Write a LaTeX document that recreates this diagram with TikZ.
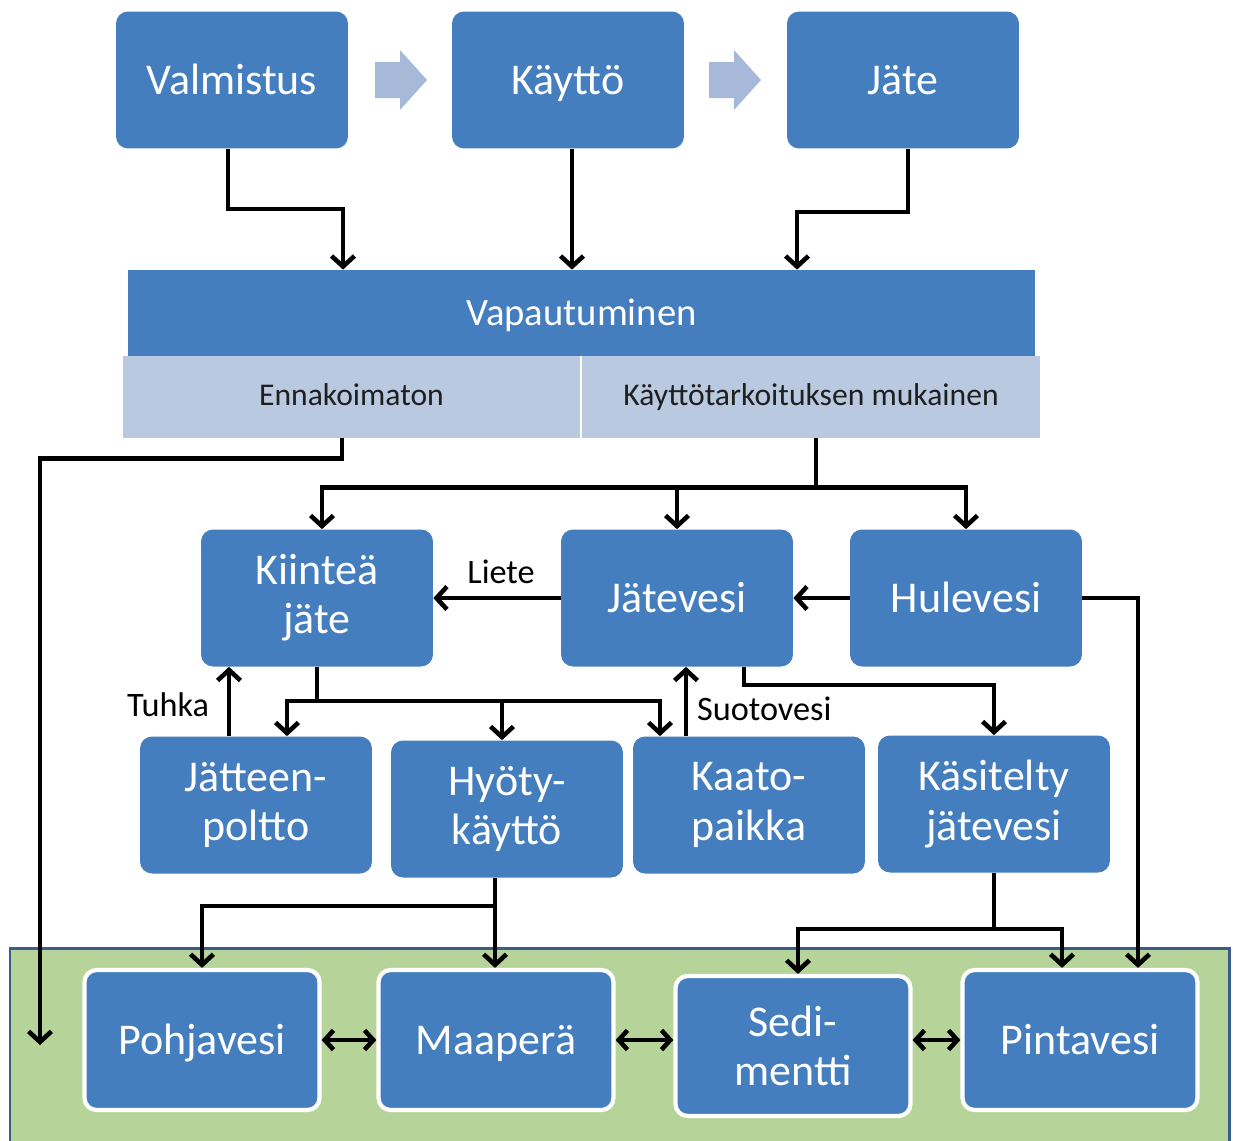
\documentclass[tikz,border=0pt]{standalone}
\usepackage{fontspec}
\setmainfont{Carlito}
\usetikzlibrary{arrows.meta}
\definecolor{boxblue}{RGB}{69,126,190}
\definecolor{lightbar}{RGB}{184,201,224}
\definecolor{chev}{RGB}{166,185,216}
\definecolor{groundgreen}{RGB}{182,211,153}
\definecolor{groundborder}{RGB}{56,93,138}
\tikzset{
  box/.style={rounded corners=0.24cm, fill=boxblue, draw=none, text=white,
    font=\fontsize{25}{28}\selectfont, align=center,
    minimum width=4.64cm, minimum height=2.74cm, inner sep=0pt},
  oneline/.style={text height=20pt, text depth=4pt},
  gbox/.style={box, draw=white, line width=2.4pt, minimum width=4.7cm, minimum height=2.8cm},
  bar/.style={fill=lightbar, draw=none, text={black!88}, font=\fontsize{18}{20}\selectfont,
    minimum height=1.64cm, inner sep=0pt, text height=13pt, text depth=3pt},
  conn/.style={line width=2.6pt},
  flow/.style={conn, -{Straight Barb[length=6pt,width=13pt]}},
  both/.style={conn, {Straight Barb[length=5pt,width=11pt]}-{Straight Barb[length=5pt,width=11pt]}},
  lbl/.style={font=\fontsize{19.5}{22}\selectfont, text=black, inner sep=1pt},
}
\begin{document}
\begin{tikzpicture}[x=0.02cm, y=-0.02cm]
\useasboundingbox (0,0) rectangle (1233,1140);
% ground area
\filldraw[fill=groundgreen, draw=groundborder, line width=1.7pt] (10,948) rectangle (1229,1160);

% top row
\node[box, oneline] (valm) at (232,80) {Valmistus};
\node[box, oneline] (kaytto) at (568,80) {Käyttö};
\node[box, oneline] (jate) at (903,80) {Jäte};
\fill[chev] (375,62) -- (400,62) -- (400,50) -- (427,80) -- (400,110) -- (400,98) -- (375,98) -- cycle;
\fill[chev] (709,62) -- (734,62) -- (734,50) -- (761,80) -- (734,110) -- (734,98) -- (709,98) -- cycle;

% release bar
\node[fill=boxblue, text=white, font=\fontsize{22}{24}\selectfont, minimum width=18.14cm, minimum height=1.72cm, inner sep=0pt, text height=18pt, text depth=4pt] (vap) at (581.5,313) {Vapautuminen};
\node[bar, minimum width=9.14cm] (enn) at (351.5,397) {Ennakoimaton};
\node[bar, minimum width=9.16cm] (kay) at (811,397) {Käyttötarkoituksen mukainen};

% middle rows
\node[box] (kiin) at (317,598) {Kiinteä\\jäte};
\node[box, oneline] (jatev) at (677,598) {Jätevesi};
\node[box, oneline] (hule) at (966,598) {Hulevesi};
\node[box] (poltto) at (256,805) {Jätteen-\\poltto};
\node[box] (hyoty) at (507,809) {Hyöty-\\käyttö};
\node[box] (kaato) at (749,805) {Kaato-\\paikka};
\node[box] (kasit) at (994,804) {Käsitelty\\jätevesi};

% bottom row
\node[gbox, oneline] (pohja) at (202,1040) {Pohjavesi};
\node[gbox, oneline] (maap) at (496,1040) {Maaperä};
\node[gbox] (sedi) at (793,1046) {Sedi-\\mentti};
\node[gbox, oneline] (pinta) at (1080,1040) {Pintavesi};
\coordinate (endE) at (40,1045);

% connectors top -> release
\draw[flow] ([xshift=-0.08cm]valm.south) -- ++(0,60) -| (vap.north -| 343,0);
\draw[flow] ([xshift=0.08cm]kaytto.south) -- ([xshift=0.08cm]kaytto.south |- vap.north);
\draw[flow] ([xshift=0.1cm]jate.south) -- ++(0,63) -| (vap.north -| 797,0);

% unforeseen
\draw[flow] (enn.south -| 342,0) -- ++(0,20) -| (endE);

% intended use branch
\draw[conn] (kay.south -| 816,0) -- ++(0,49) coordinate (b1);
\draw[flow] (b1) -| (kiin.north -| 322,0);
\draw[flow] (b1) -| (jatev.north);
\draw[flow] (b1) -| (hule.north);

% middle row links
\draw[flow] (jatev.west) -- node[lbl, above=6pt, xshift=0.08cm] (liete) {Liete} (kiin.east);
\draw[flow] (hule.west) -- (jatev.east);
\draw[flow] (hule.east) -| (pinta.north -| 1138,0);

% solid waste branch
\draw[conn] (kiin.south) -- ++(0,34) coordinate (b2);
\draw[flow] (b2) -| (poltto.north -| 287,0);
\draw[flow] (b2) -| (hyoty.north -| 502,0);
\draw[flow] (b2) -| (kaato.north -| 660,0);

\draw[flow] (poltto.north -| 229,0) -- node[lbl, pos=0.45, left=9pt] (tuhka) {Tuhka} (kiin.south -| 229,0);
\draw[flow] (kaato.north -| 686,0) -- node[lbl, pos=0.4, right=4pt] (suoto) {Suotovesi} (jatev.south -| 686,0);
\draw[flow] (jatev.south -| 744,0) -- ++(0,18) -| (kasit.north);

% to ground
\draw[conn] (hyoty.south -| 495,0) -- ++(0,28) coordinate (b3);
\draw[flow] (b3) -| (pohja.north);
\draw[flow] (b3) -- (maap.north -| 495,0);
\draw[conn] (kasit.south) -- ++(0,56) coordinate (b4);
\draw[flow] (b4) -| (sedi.north -| 798,0);
\draw[flow] (b4) -| (pinta.north -| 1062,0);

% exchanges
\draw[both] (pohja.east) -- (maap.west);
\draw[both] (maap.east) -- (maap.east -| sedi.west);
\draw[both] (pinta.west -| sedi.east) -- (pinta.west);
\end{tikzpicture}
\end{document}
